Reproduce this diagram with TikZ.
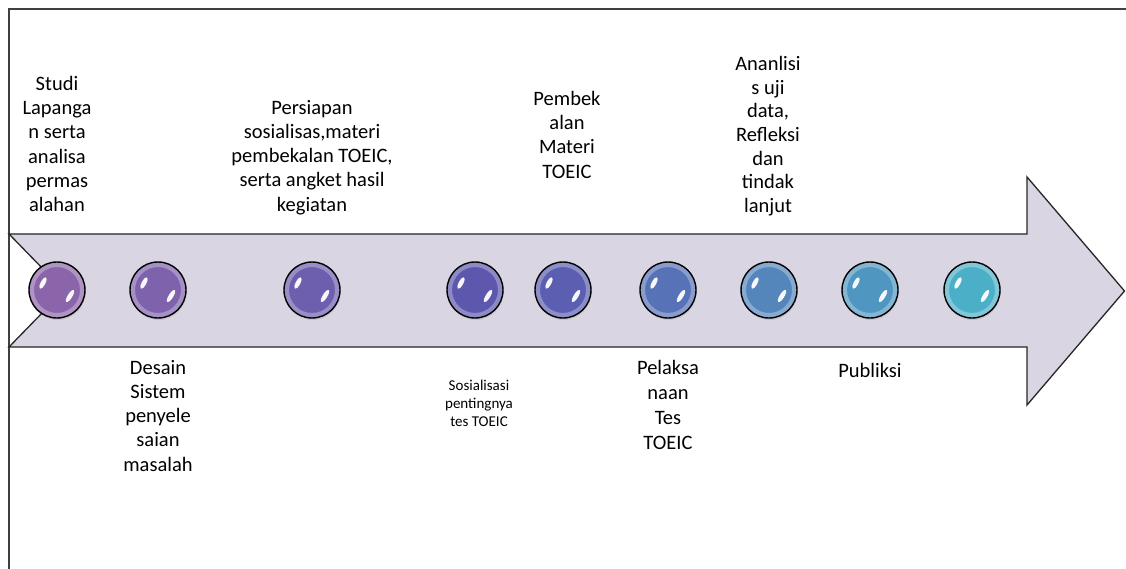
\documentclass[tikz,border=0pt]{standalone}
\usepackage{fontspec}
\setmainfont{Carlito}
\usetikzlibrary{shadows}
\definecolor{arrowfill}{HTML}{D9D5E3}
\definecolor{frameline}{HTML}{404040}
\definecolor{cA}{HTML}{8B65A9}
\definecolor{cB}{HTML}{7F62AC}
\definecolor{cC}{HTML}{6E5EAE}
\definecolor{cD}{HTML}{5D58AD}
\definecolor{cE}{HTML}{5B5EB1}
\definecolor{cF}{HTML}{5872B7}
\definecolor{cG}{HTML}{5486BC}
\definecolor{cH}{HTML}{4F97C1}
\definecolor{cI}{HTML}{4BAFC7}
\tikzset{
  ball/.style={circle, draw=black, line width=1.4pt, minimum size=56pt, inner sep=0pt,
    fill=#1,
    drop shadow={opacity=0.22, shadow xshift=0.6pt, shadow yshift=-2pt},
    path picture={
      \draw[#1!40!white, line width=5pt, opacity=0.5] (path picture bounding box.center) circle (25.5pt);
      \fill[white, opacity=0.95] ([shift={(-14pt,7pt)}]path picture bounding box.center) ellipse [x radius=2.3pt, y radius=6.5pt, rotate=-28];
      \fill[white, opacity=0.95] ([shift={(13pt,-6pt)}]path picture bounding box.center) ellipse [x radius=2.3pt, y radius=7pt, rotate=-32];
    }},
  lbl/.style={font=\fontsize{20.5}{24.2}\selectfont, align=center, inner sep=0pt, anchor=north,
    execute at begin node=\strut, text=black},
  smalllbl/.style={font=\fontsize{15}{18}\selectfont, align=center, inner sep=0pt, anchor=north,
    execute at begin node=\strut, text=black}
}
\begin{document}
\begin{tikzpicture}[x=1pt, y=-1pt]
\useasboundingbox (0,0) rectangle (1126,569);
% frame
\draw[frameline, line width=1.6pt] (9,569) -- (9,9) -- (1126,9);
% arrow
\draw[fill=arrowfill, draw=black!85, line width=1.3pt, line join=miter]
  (9,234) -- (1027,234) -- (1027,177) -- (1124.5,291) -- (1027,405) -- (1027,347) -- (9,347) -- (64,290.5) -- cycle;
% balls
\node[ball=cA] (b1) at (57,290) {};
\node[ball=cB] (b2) at (158,290) {};
\node[ball=cC] (b3) at (312,290) {};
\node[ball=cD] (b4) at (475,290) {};
\node[ball=cE] (b5) at (563,290) {};
\node[ball=cF] (b6) at (668,290) {};
\node[ball=cG] (b7) at (769,290) {};
\node[ball=cH] (b8) at (870,290) {};
\node[ball=cI] (b9) at (972,290) {};
% labels above
\node[lbl] (t1) at (57,76) {Studi\\Lapanga\\n serta\\analisa\\permas\\alahan};
\node[lbl] (t3) at (312,100) {Persiapan\\sosialisas,materi\\pembekalan TOEIC,\\serta angket hasil\\kegiatan};
\node[lbl] (t5) at (567,91) {Pembek\\alan\\Materi\\TOEIC};
\node[lbl, font=\fontsize{20.5}{23.7}\selectfont] (t7) at (768,56) {Ananlisi\\s uji\\data,\\Refleksi\\dan\\tindak\\lanjut};
% labels below
\node[lbl] (t2) at (158,360) {Desain\\Sistem\\penyele\\saian\\masalah};
\node[smalllbl] (t4) at (479,379.4) {Sosialisasi\\pentingnya\\tes TOEIC};
\node[lbl, font=\fontsize{20.5}{25}\selectfont] (t6) at (668,360) {Pelaksa\\naan\\Tes\\TOEIC};
\node[lbl] (t8) at (870,360) {Publiksi};
\end{tikzpicture}
\end{document}
